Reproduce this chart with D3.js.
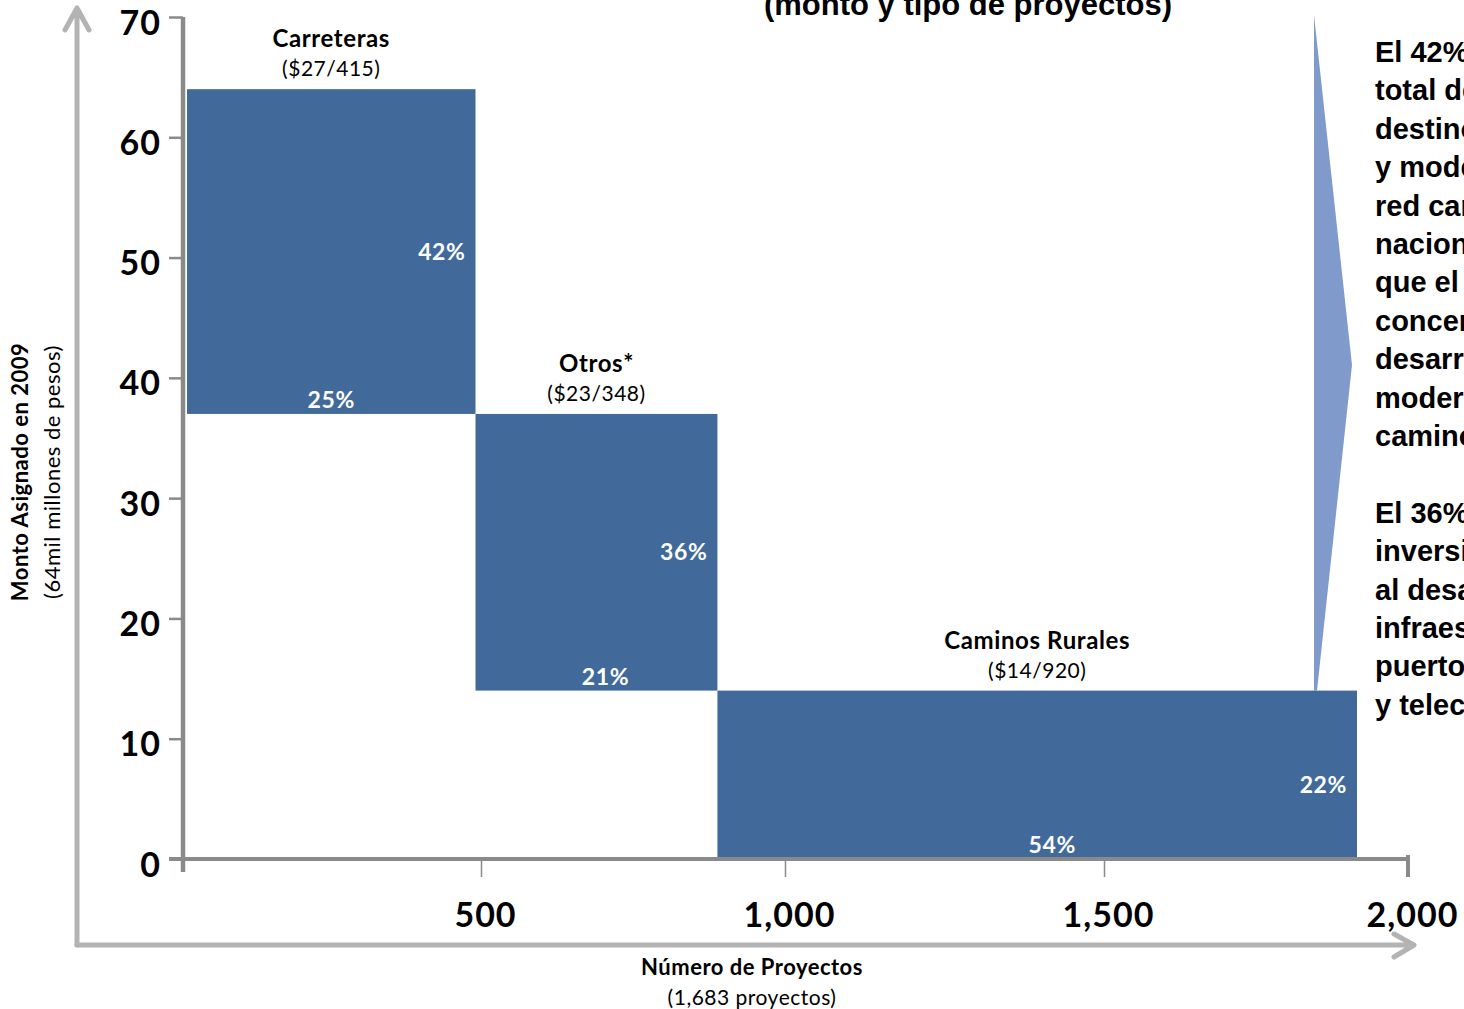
<!DOCTYPE html>
<html>
<head>
<meta charset="utf-8">
<script src="https://cdn.jsdelivr.net/npm/d3@7"></script>
<style>
  body { margin: 0; background: #fff; }
  svg { display: block; }
</style>
</head>
<body>
<div id="chart"></div>
<script>
// data
let categories = ["Carreteras", "Otros*", "Caminos Rurales"];
let montos = [27, 23, 14];                 // miles de millones de pesos
let proyectos = [415, 348, 920];
let subLabels = ["($27/415)", "($23/348)", "($14/920)"];
let montoPct = ["42%", "36%", "22%"];
let proyectosPct = ["25%", "21%", "54%"];
let yTicks = [0, 10, 20, 30, 40, 50, 60, 70];
let xTicks = [500, 1000, 1500, 2000];
let notes = [
    "El 42% del monto",
    "total de inversión se",
    "destinó a construcción",
    "y modernización de la",
    "red carretera federal",
    "nacional, mientras",
    "que el 22% se",
    "concentró en el",
    "desarrollo y",
    "modernización de",
    "caminos rurales.",
    "",
    "El 36% de la",
    "inversión se destinó",
    "al desarrollo de",
    "infraestructura de",
    "puertos, aeropuertos",
    "y telecomunicaciones."
];

let width = 1464;
let height = 1009;
let barColor = "#416a9b";
let axisGrey = "#8a8a8a";
let arrowGrey = "#b3b3b3";
let calibri = "Lato, 'Open Sans', sans-serif";
let arial = "'Liberation Sans', Arial, sans-serif";

let svg = d3.select("#chart")
    .append("svg")
    .attr("width", width)
    .attr("height", height);

let y = d3.scaleLinear().domain([0, 70]).range([859, 17]);
// the tick spacing in the original is slightly uneven, and the bars
// don't share the axis scale, so they get their own
let xAxisScale = d3.scaleLinear()
    .domain([0, 500, 1000, 1500, 2000])
    .range([183, 481, 785, 1104, 1408]);
let totalProy = d3.sum(proyectos);
let xBar = d3.scaleLinear().domain([0, totalProy]).range([187, 1357]);

// stacked positions: bars go down like steps
let bars = [];
let xAcc = 0;
let yTop = d3.sum(montos);
categories.forEach(function (c, i) {
    bars.push({
        name: c, sub: subLabels[i],
        x0: xAcc, x1: xAcc + proyectos[i],
        y1: yTop, y0: yTop - montos[i],
        pm: montoPct[i], pp: proyectosPct[i]
    });
    xAcc += proyectos[i];
    yTop -= montos[i];
});

// title (cut off at top)
svg.append("text")
    .attr("x", 968).attr("y", 15)
    .attr("text-anchor", "middle")
    .style("font-family", arial).style("font-weight", "bold")
    .style("font-size", "31px")
    .text("(monto y tipo de proyectos)");

// outer grey arrows
let outer = svg.append("g")
    .attr("fill", "none")
    .attr("stroke", arrowGrey)
    .attr("stroke-width", 5)
    .attr("stroke-linecap", "round")
    .attr("stroke-linejoin", "round");
outer.append("path").attr("d", "M77,945 L77,8 M65,30 L77,8 L89,30");
outer.append("path").attr("d", "M77,945 L1414,945 M1394,934 L1414,945 L1394,957");

// blue callout wedge
let last = bars[bars.length - 1];
svg.append("polygon")
    .attr("points", [
        [1314, 15], [1352, 365], [1317, y(last.y1)], [1314, y(last.y1)]
    ].map(p => p.join(",")).join(" "))
    .attr("fill", "#7f9acb");

// bars
svg.selectAll("rect.bar")
    .data(bars)
    .enter().append("rect")
    .attr("class", "bar")
    .attr("x", d => xBar(d.x0))
    .attr("width", d => xBar(d.x1) - xBar(d.x0))
    .attr("y", d => y(d.y1))
    .attr("height", d => y(d.y0) - y(d.y1))
    .attr("fill", barColor);

// category labels
svg.selectAll("text.cat")
    .data(bars)
    .enter().append("text")
    .attr("class", "cat")
    .attr("x", d => (xBar(d.x0) + xBar(d.x1)) / 2)
    .attr("y", d => y(d.y1) - 42)
    .attr("text-anchor", "middle")
    .style("font-family", calibri).style("font-weight", "bold")
    .style("font-size", "24px").style("letter-spacing", "0.6px")
    .text(d => d.name);

svg.selectAll("text.sub")
    .data(bars)
    .enter().append("text")
    .attr("class", "sub")
    .attr("x", d => (xBar(d.x0) + xBar(d.x1)) / 2)
    .attr("y", d => y(d.y1) - 13)
    .attr("text-anchor", "middle")
    .style("font-family", calibri)
    .style("font-size", "21px").style("letter-spacing", "0.5px")
    .text(d => d.sub);

// percentage labels inside bars
svg.selectAll("text.pm")
    .data(bars)
    .enter().append("text")
    .attr("class", "pm")
    .attr("x", d => xBar(d.x1) - 10)
    .attr("y", (d, i) => (y(d.y0) + y(d.y1)) / 2 + 8 + (i === 2 ? 10 : 0))
    .attr("text-anchor", "end")
    .style("font-family", calibri).style("font-weight", "bold")
    .style("font-size", "23px").style("letter-spacing", "0.6px")
    .style("fill", "white")
    .text(d => d.pm);

svg.selectAll("text.pp")
    .data(bars)
    .enter().append("text")
    .attr("class", "pp")
    .attr("x", (d, i) => (xBar(d.x0) + xBar(d.x1)) / 2 + [0, 9, 15][i])
    .attr("y", d => y(d.y0) - 6)
    .attr("text-anchor", "middle")
    .style("font-family", calibri).style("font-weight", "bold")
    .style("font-size", "23px").style("letter-spacing", "0.6px")
    .style("fill", "white")
    .text(d => d.pp);

// y axis
let yAxis = svg.append("g").attr("transform", "translate(183,0)")
    .call(d3.axisLeft(y).tickValues(yTicks).tickSize(14).tickPadding(8));
yAxis.select(".domain").remove();
yAxis.selectAll(".tick line").attr("stroke", axisGrey).attr("stroke-width", 2.5);
yAxis.selectAll(".tick text")
    .attr("dy", "0.5em")
    .style("font-family", calibri).style("font-weight", "bold")
    .style("font-size", "34px").style("letter-spacing", "1px")
    .attr("fill", "#000");

// x axis
let xAxis = svg.append("g").attr("transform", "translate(0,859)")
    .call(d3.axisBottom(xAxisScale).tickValues(xTicks).tickSize(18).tickPadding(26)
        .tickFormat(d3.format(",")));
xAxis.select(".domain").remove();
xAxis.selectAll(".tick line").attr("stroke", axisGrey).attr("stroke-width", 1.5);
xAxis.selectAll(".tick text")
    .attr("dx", 4)
    .style("font-family", calibri).style("font-weight", "bold")
    .style("font-size", "34px").style("letter-spacing", "1px")
    .attr("fill", "#000");

// axis lines
svg.append("line")
    .attr("x1", 183).attr("x2", 183)
    .attr("y1", y(70)).attr("y2", 872)
    .attr("stroke", axisGrey).attr("stroke-width", 4.5);
svg.append("line")
    .attr("x1", 169).attr("x2", xAxisScale(2000))
    .attr("y1", y(0)).attr("y2", y(0))
    .attr("stroke", axisGrey).attr("stroke-width", 4);
svg.append("line")
    .attr("x1", xAxisScale(2000)).attr("x2", xAxisScale(2000))
    .attr("y1", 855).attr("y2", 877)
    .attr("stroke", axisGrey).attr("stroke-width", 4);

// y axis title
let yTitle = svg.append("text")
    .attr("transform", "translate(0,472) rotate(-90)")
    .attr("text-anchor", "middle")
    .style("font-family", calibri).style("letter-spacing", "0.5px");
yTitle.append("tspan").attr("x", 0).attr("y", 28)
    .style("font-weight", "bold").style("font-size", "22px")
    .text("Monto Asignado en 2009");
yTitle.append("tspan").attr("x", 0).attr("y", 60)
    .style("font-size", "22px")
    .text("(64mil millones de pesos)");

// x axis title
svg.append("text")
    .attr("x", 752).attr("y", 975)
    .attr("text-anchor", "middle")
    .style("font-family", calibri).style("font-weight", "bold")
    .style("font-size", "22px").style("letter-spacing", "0.5px")
    .text("Número de Proyectos");
svg.append("text")
    .attr("x", 752).attr("y", 1005)
    .attr("text-anchor", "middle")
    .style("font-family", calibri)
    .style("font-size", "21px").style("letter-spacing", "0.5px")
    .text("(1,683 proyectos)");

// side notes (cut off at right edge)
svg.append("g")
    .selectAll("text")
    .data(notes)
    .enter().append("text")
    .attr("x", 1375)
    .attr("y", (d, i) => 62 + i * 38.4)
    .style("font-family", arial).style("font-weight", "bold")
    .style("font-size", "29px")
    .text(d => d);
</script>
</body>
</html>
